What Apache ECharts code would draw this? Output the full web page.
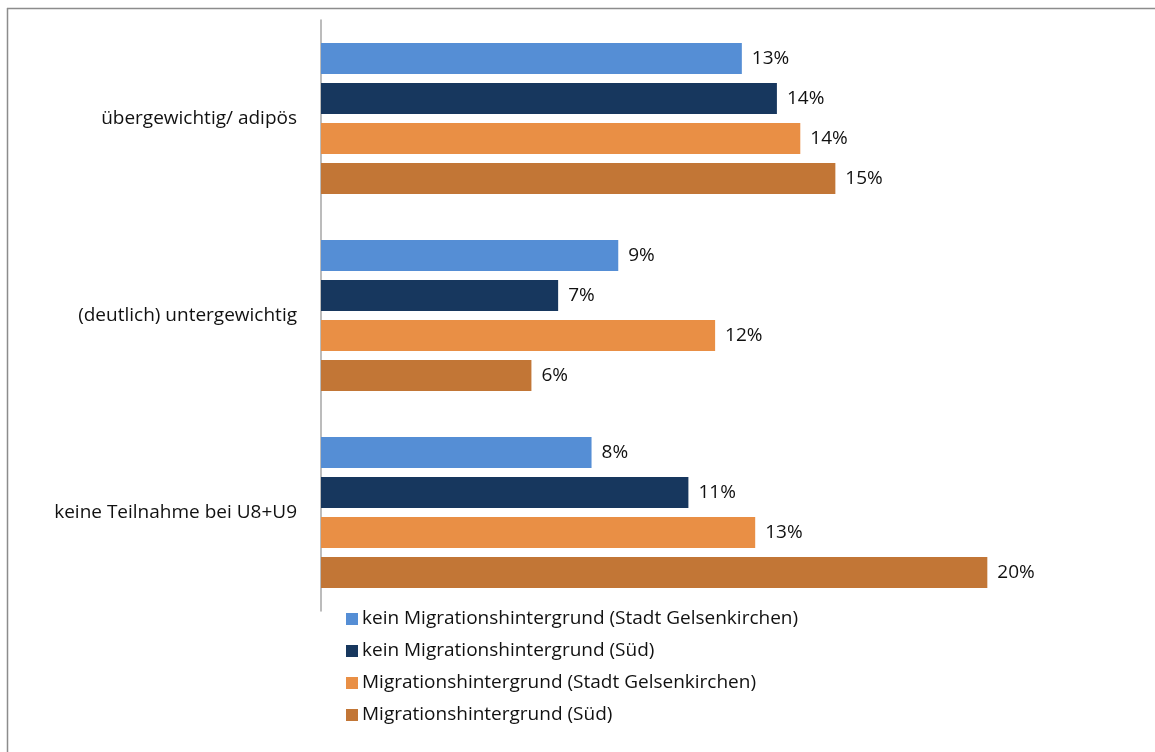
<!DOCTYPE html>
<html>
<head>
<meta charset="utf-8">
<script src="https://cdn.jsdelivr.net/npm/echarts@6/dist/echarts.min.js"></script>
<style>
  html, body { margin: 0; padding: 0; background: #fff; }
  #chart { width: 1155px; height: 752px; }
</style>
</head>
<body>
<div id="chart"></div>
<script>
// Categories (top to bottom)
const categories = ['übergewichtig/ adipös', '(deutlich) untergewichtig', 'keine Teilnahme bei U8+U9'];

// Series names
const seriesNames = [
  'kein Migrationshintergrund (Stadt Gelsenkirchen)',
  'kein Migrationshintergrund (Süd)',
  'Migrationshintergrund (Stadt Gelsenkirchen)',
  'Migrationshintergrund (Süd)'
];

// Shares in percent, one array per series, in category order
const keinMigStadt = [12.6, 8.9, 8.1];
const keinMigSued  = [13.65, 7.1, 11.0];
const migStadt     = [14.35, 11.8, 13.0];
const migSued      = [15.4, 6.3, 19.95];

const seriesValues = [keinMigStadt, keinMigSued, migStadt, migSued];
const seriesColors = ['#558ED5', '#17375E', '#E98F45', '#C27636'];

const font = '"Open Sans", "Noto Sans", sans-serif';
const fontSize = 19;

const chart = echarts.init(document.getElementById('chart'));

chart.setOption({
  animation: false,
  backgroundColor: '#fff',
  textStyle: { fontFamily: font },
  graphic: [
    { type: 'line', shape: { x1: 7, y1: 8.5, x2: 1155, y2: 8.5 }, style: { stroke: '#8c8c8c', lineWidth: 1.5 } },
    { type: 'line', shape: { x1: 7.5, y1: 8, x2: 7.5, y2: 752 }, style: { stroke: '#8c8c8c', lineWidth: 1.5 } }
  ],
  grid: { left: 321, top: 20, width: 734.8, height: 591, containLabel: false },
  xAxis: {
    type: 'value',
    min: 0,
    max: 22,
    show: false
  },
  yAxis: {
    type: 'category',
    inverse: true,
    data: categories,
    axisLine: { show: true, lineStyle: { color: '#a6a6a6', width: 1.5 } },
    axisTick: { show: false },
    axisLabel: { color: '#111', fontSize: fontSize, margin: 24, fontFamily: font, padding: [12, 0, 0, 0] }
  },
  legend: {
    orient: 'vertical',
    left: 341,
    top: 603,
    itemWidth: 12,
    itemHeight: 12,
    itemGap: 10,
    icon: 'rect',
    data: seriesNames,
    textStyle: { fontSize: fontSize, color: '#111', lineHeight: 22, fontFamily: font, padding: [0, 0, 0, -1] }
  },
  series: seriesNames.map((name, i) => ({
    name: name,
    type: 'bar',
    data: seriesValues[i],
    barWidth: 31,
    barGap: '29%',
    barCategoryGap: '24%',
    itemStyle: { color: seriesColors[i] },
    label: {
      show: true,
      position: 'right',
      distance: 10,
      color: '#111',
      fontSize: fontSize,
      fontFamily: font,
      padding: [9, 0, 0, 0],
      formatter: p => Math.round(p.value) + '%'
    }
  }))
});
</script>
</body>
</html>
